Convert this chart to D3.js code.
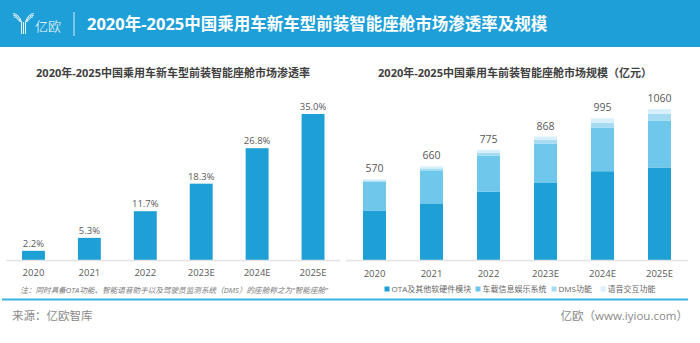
<!DOCTYPE html>
<html>
<head>
<meta charset="utf-8">
<script src="https://cdn.jsdelivr.net/npm/d3@7"></script>
<style>
  html, body { margin: 0; padding: 0; background: #fff; }
  svg { display: block; font-family: "Open Sans", "Noto Sans CJK SC", sans-serif; }
</style>
</head>
<body>
<svg id="chart" width="700" height="343"></svg>
<script>
// Years on both x axes
const years = ["2020", "2021", "2022", "2023E", "2024E", "2025E"];

// Penetration rate of smart cockpits in new passenger-car models (%)
const penetration = [2.2, 5.3, 11.7, 18.3, 26.8, 35.0];

// Market size by component (亿元)
const marketTotal = [570, 660, 775, 868, 995, 1060];
const otaHardware = [349, 402, 482, 548, 626, 652];
const infotainment = [203, 230, 251, 271, 302, 328];
const dmsFunction = [10, 14, 23, 25, 37, 47];
const voiceInteraction = [8, 14, 19, 24, 30, 33];

const seriesNames = ["OTA及其他软硬件模块", "车载信息娱乐系统", "DMS功能", "语音交互功能"];
const seriesColors = ["#1E9FD6", "#6FC8EC", "#A6DCF3", "#D8F0FB"];

const svg = d3.select("#chart");

// ---- header band ----
svg.append("rect").attr("x", 0).attr("y", 0).attr("width", 700).attr("height", 47).attr("fill", "#1F9FD7");

// logo mark: striped "Y"
const logo = svg.append("g").attr("stroke", "#fff").attr("stroke-width", 0.9).attr("fill", "none");
[-2, 0, 2].forEach((d, i) => {
  logo.append("line").attr("x1", 23.5 + d).attr("x2", 23.5 + d).attr("y1", 22).attr("y2", 34);
});
[0, 2, 4].forEach(k => {
  logo.append("path").attr("d", `M${21.5 - k * 0.3},22 Q${19 - k},${14 + k * 0.4} ${13 + k * 0.2},${13.5 + k * 0.9}`);
  logo.append("path").attr("d", `M${25.5 + k * 0.3},22 Q${28 + k},${14 + k * 0.4} ${34 - k * 0.2},${13.5 + k * 0.9}`);
});
svg.append("text").attr("x", 35).attr("y", 31).attr("fill", "#fff").attr("font-size", 13)
  .attr("font-weight", 300).text("亿欧");
svg.append("line").attr("x1", 74).attr("x2", 74).attr("y1", 12).attr("y2", 36)
  .attr("stroke", "#fff").attr("stroke-width", 0.8);
svg.append("text").attr("x", 87).attr("y", 30).attr("fill", "#fff").attr("font-size", 16.5)
  .attr("font-weight", 700).text("2020年-2025中国乘用车新车型前装智能座舱市场渗透率及规模");

// ---- left chart: penetration rate ----
svg.append("text").attr("x", 173).attr("y", 77).attr("text-anchor", "middle")
  .attr("font-size", 11).attr("font-weight", 700).attr("fill", "#404040")
  .text("2020年-2025中国乘用车新车型前装智能座舱市场渗透率");

const xL = d3.scaleBand().domain(years).range([5.5, 341]).paddingInner(0.59).paddingOuter(0.295);
const yL = d3.scaleLinear().domain([0, 35]).range([260, 114]);

svg.append("g").selectAll("rect").data(penetration).join("rect")
  .attr("x", (d, i) => xL(years[i]))
  .attr("y", d => yL(d))
  .attr("width", xL.bandwidth())
  .attr("height", d => yL(0) - yL(d))
  .attr("fill", "#1E9FD6");

svg.append("g").selectAll("text").data(penetration).join("text")
  .attr("x", (d, i) => xL(years[i]) + xL.bandwidth() / 2)
  .attr("y", d => yL(d) - 4)
  .attr("text-anchor", "middle").attr("font-size", 9.5).attr("fill", "#595959")
  .text(d => d.toFixed(1) + "%");

const axL = svg.append("g").attr("transform", "translate(0,260)")
  .call(d3.axisBottom(xL).tickSize(0).tickPadding(9));
axL.select(".domain").attr("stroke", "#E3E3E3").attr("stroke-width", 1.5).attr("d", "M6,0.5H340");
axL.selectAll("text").attr("font-size", 9.5).attr("fill", "#595959")
  .attr("font-family", "\"Open Sans\", \"Noto Sans CJK SC\", sans-serif");

svg.append("text").attr("x", 174).attr("y", 293).attr("text-anchor", "middle")
  .attr("font-size", 7.6).attr("font-style", "italic").attr("fill", "#7A7A7A")
  .text("注：同时具备OTA功能、智能语音助手以及驾驶员监测系统（DMS）的座舱称之为“智能座舱”");

// ---- right chart: market size stacked ----
svg.append("text").attr("x", 515).attr("y", 77).attr("text-anchor", "middle")
  .attr("font-size", 11).attr("font-weight", 700).attr("fill", "#404040")
  .text("2020年-2025中国乘用车前装智能座舱市场规模（亿元）");

const xR = d3.scaleBand().domain(years).range([346, 688]).paddingInner(0.596).paddingOuter(0.298);
const yR = d3.scaleLinear().domain([0, 1060]).range([261, 109]);

const rows = years.map((y, i) => ({
  year: y, ota: otaHardware[i], info: infotainment[i], dms: dmsFunction[i], voice: voiceInteraction[i]
}));
const stacked = d3.stack().keys(["ota", "info", "dms", "voice"])(rows);

svg.append("g").selectAll("g").data(stacked).join("g")
  .attr("fill", (d, i) => seriesColors[i])
  .selectAll("rect").data(d => d).join("rect")
  .attr("x", d => xR(d.data.year))
  .attr("y", d => yR(d[1]))
  .attr("width", xR.bandwidth())
  .attr("height", d => yR(d[0]) - yR(d[1]));

svg.append("g").selectAll("text").data(marketTotal).join("text")
  .attr("x", (d, i) => xR(years[i]) + xR.bandwidth() / 2)
  .attr("y", d => yR(d) - 7)
  .attr("text-anchor", "middle").attr("font-size", 10.5).attr("fill", "#595959")
  .text(d => d);

const axR = svg.append("g").attr("transform", "translate(0,260)")
  .call(d3.axisBottom(xR).tickSize(0).tickPadding(10));
axR.select(".domain").attr("stroke", "#E3E3E3").attr("stroke-width", 1.5).attr("d", "M346,0.5H688");
axR.selectAll("text").attr("font-size", 9.5).attr("fill", "#595959")
  .attr("font-family", "\"Open Sans\", \"Noto Sans CJK SC\", sans-serif");

// legend
const legendX = [387, 478, 554, 603];
const lg = svg.append("g").selectAll("g").data(seriesNames).join("g")
  .attr("transform", (d, i) => `translate(${legendX[i]},289)`);
lg.append("rect").attr("x", -2.5).attr("y", -2.5).attr("width", 5).attr("height", 5)
  .attr("fill", (d, i) => seriesColors[i]);
lg.append("text").attr("x", 4.5).attr("y", 3).attr("font-size", 8).attr("fill", "#666").text(d => d);

// ---- footer ----
svg.append("line").attr("x1", 2).attr("x2", 688).attr("y1", 299.5).attr("y2", 299.5)
  .attr("stroke", "#3DB2E2").attr("stroke-width", 2);
svg.append("text").attr("x", 12).attr("y", 320).attr("font-size", 11.5).attr("fill", "#8A8A8A").text("来源：亿欧智库");
svg.append("text").attr("x", 688).attr("y", 320).attr("text-anchor", "end").attr("font-size", 11.5)
  .attr("fill", "#8A8A8A").text("亿欧（www.iyiou.com）");
</script>
</body>
</html>
